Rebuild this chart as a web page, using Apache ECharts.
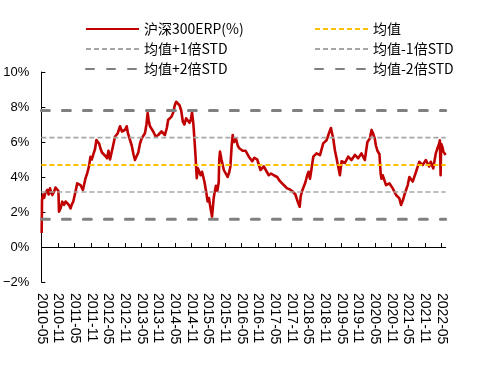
<!DOCTYPE html>
<html><head><meta charset="utf-8">
<script src="https://cdn.jsdelivr.net/npm/echarts@6/dist/echarts.min.js"></script>
<style>html,body{margin:0;padding:0;background:#fff}#c{width:503px;height:384px}</style>
</head><body><div id="c"></div>
<script>
// ---- data ----
const erpName = '沪深300ERP(%)';
const erpDates = [
'2010-05-04','2010-05-08','2010-05-20','2010-05-30','2010-06-15','2010-07-05','2010-07-20','2010-08-04','2010-08-18','2010-08-29',
'2010-09-17','2010-10-04','2010-10-22','2010-11-05','2010-11-11','2010-11-28','2010-12-16','2011-01-05','2011-01-22','2011-02-10',
'2011-02-28','2011-03-16','2011-04-01','2011-04-15','2011-05-09','2011-05-28','2011-06-15','2011-07-03','2011-07-29','2011-08-27',
'2011-09-15','2011-10-04','2011-10-21','2011-11-05','2011-11-20','2011-12-10','2011-12-25','2012-01-10','2012-01-25','2012-02-08',
'2012-02-25','2012-03-15','2012-04-01','2012-04-20','2012-05-05','2012-05-22','2012-06-17','2012-07-16','2012-08-15','2012-09-10',
'2012-10-01','2012-10-16','2012-11-05','2012-11-22','2012-12-05','2012-12-17','2013-01-16','2013-02-05','2013-02-21','2013-03-27',
'2013-04-15','2013-05-03','2013-06-09','2013-06-25','2013-07-08','2013-07-20','2013-08-03','2013-09-08','2013-10-05','2013-11-02',
'2013-12-08','2014-01-14','2014-02-05','2014-02-19','2014-03-26','2014-04-15','2014-05-01','2014-05-16','2014-06-05','2014-06-22',
'2014-07-10','2014-07-28','2014-08-15','2014-09-03','2014-10-10','2014-10-25','2014-11-07','2014-11-22','2014-12-05','2014-12-14',
'2014-12-28','2015-01-10','2015-01-27','2015-02-10','2015-02-25','2015-03-21','2015-04-08','2015-04-26','2015-05-10','2015-05-21',
'2015-06-13','2015-07-01','2015-07-10','2015-07-25','2015-08-10','2015-08-25','2015-09-01','2015-09-09','2015-09-25','2015-10-07',
'2015-10-20','2015-11-07','2015-12-01','2015-12-20','2016-01-01','2016-01-15','2016-01-26','2016-02-10','2016-03-01','2016-03-20',
'2016-04-07','2016-05-13','2016-06-15','2016-07-20','2016-08-27','2016-09-20','2016-10-21','2016-11-26','2017-01-02','2017-02-25',
'2017-03-20','2017-04-19','2017-05-26','2017-06-20','2017-07-19','2017-08-15','2017-09-13','2017-10-10','2017-11-07','2017-12-13',
'2018-01-07','2018-01-29','2018-02-10','2018-02-25','2018-04-01','2018-04-20','2018-05-05','2018-05-20','2018-06-05','2018-06-26',
'2018-08-01','2018-09-08','2018-10-13','2018-11-19','2018-12-15','2019-01-06','2019-02-01','2019-02-20','2019-03-07','2019-04-13',
'2019-05-01','2019-06-07','2019-07-13','2019-08-18','2019-09-25','2019-10-30','2019-12-05','2020-01-12','2020-02-10','2020-03-06',
'2020-03-25','2020-04-10','2020-04-29','2020-05-12','2020-05-28','2020-06-20','2020-07-03','2020-07-12','2020-07-25','2020-08-13',
'2020-09-01','2020-10-07','2020-11-13','2020-12-19','2021-01-25','2021-02-13','2021-03-05','2021-03-19','2021-04-25','2021-05-13',
'2021-06-19','2021-07-25','2021-08-29','2021-10-06','2021-11-11','2021-12-16','2022-01-04','2022-01-30','2022-02-28','2022-03-16',
'2022-04-04','2022-04-12','2022-04-20','2022-04-26','2022-05-10','2022-05-20','2022-06-14'
];
const erpValues = [
0.8,2.7,3.0,2.8,3.1,3.26,3.0,3.35,3.1,2.97,
3.16,3.4,3.3,3.2,2.02,2.21,2.59,2.4,2.6,2.5,
2.4,2.21,2.45,2.59,3.16,3.64,3.7,3.54,3.26,3.92,
4.2,4.59,5.16,5.0,5.26,5.6,6.11,6.21,5.9,5.64,
5.4,5.45,5.2,5.07,5.5,5.0,5.6,6.3,6.5,6.9,
6.6,6.5,6.7,6.9,6.5,6.3,5.8,5.3,4.97,5.4,
5.9,6.2,6.5,7.0,7.66,7.2,6.9,6.6,6.3,6.4,
6.6,6.4,6.8,7.26,7.45,7.7,8.1,8.3,8.2,8.1,
7.8,7.16,7.0,7.35,7.1,7.3,7.7,7.0,6.0,5.26,
3.93,4.5,4.6,4.1,4.3,3.73,3.2,2.6,2.8,2.4,
1.73,2.8,3.1,3.5,3.2,3.7,5.0,5.45,5.0,4.9,
4.4,4.5,4.0,4.3,4.6,5.8,6.4,6.0,6.2,5.8,
5.64,5.5,5.5,5.16,4.9,5.1,5.0,4.4,4.6,4.1,
4.2,4.1,4.0,3.8,3.64,3.5,3.35,3.3,3.2,3.0,
2.6,2.3,2.9,3.2,3.7,4.1,4.3,3.9,4.4,5.16,
5.35,5.25,5.92,6.1,6.5,6.8,6.2,5.5,5.07,4.1,
4.9,4.8,5.16,4.97,5.26,5.07,5.35,4.97,6.0,6.2,
6.69,6.5,6.2,5.8,5.5,5.3,4.2,3.9,4.1,4.0,
3.54,3.64,3.35,2.97,2.78,2.4,2.7,2.97,3.54,4.0,
3.74,4.3,4.87,4.68,4.97,4.6,4.87,4.49,5.35,5.64,
5.9,6.1,4.1,5.9,5.7,5.45,5.26
];
const tickLabels = ['2010-05','2010-11','2011-05','2011-11','2012-05','2012-11','2013-05','2013-11','2014-05','2014-11',
'2015-05','2015-11','2016-05','2016-11','2017-05','2017-11','2018-05','2018-11','2019-05','2019-11',
'2020-05','2020-11','2021-05','2021-11','2022-05'];
const refNames = ['均值','均值+1倍STD','均值-1倍STD','均值+2倍STD','均值-2倍STD'];
const refValues = [4.69, 6.25, 3.14, 7.80, 1.58];

// ---- helpers ----
function toMonth(s){ const p = s.split('-').map(Number); return (p[0]-2010)*12 + (p[1]-5) + ((p[2]||1)-1)/30; }
const xMin = 0, xMax = toMonth('2022-06-15');
const tickVals = tickLabels.map(toMonth);
const labelMap = {}; tickLabels.forEach((l,i)=>{ labelMap[Math.round(tickVals[i])] = l; });

const refStyles = [
  {color:'#FFC000', width:2, type:[5,3], cap:'butt'},
  {color:'#A6A6A6', width:1.6, type:[5,3], cap:'butt'},
  {color:'#A6A6A6', width:1.6, type:[5,3], cap:'butt'},
  {color:'#808080', width:3, type:[8,13], cap:'round'},
  {color:'#808080', width:3, type:[8,13], cap:'round'}
];

const series = [{
  name: erpName, type:'line', symbol:'none', showSymbol:false, animation:false,
  data: erpDates.map((d,i)=>[toMonth(d), erpValues[i]]),
  lineStyle:{color:'#C00000', width:2.6, join:'round'}, itemStyle:{color:'#C00000'}, z:2
}];
refNames.forEach((n,i)=>{
  series.push({
    name:n, type:'line', symbol:'none', showSymbol:false, animation:false, z:3,
    data:[[xMin, refValues[i]],[xMax, refValues[i]]],
    lineStyle:{color:refStyles[i].color, width:refStyles[i].width, type:refStyles[i].type, cap:refStyles[i].cap},
    itemStyle:{color:refStyles[i].color}
  });
});

const legendText = {fontFamily:'"Noto Sans CJK SC"', fontSize:14, color:'#000'};
const legendCommon = {orient:'vertical', top:17, itemWidth:53, itemHeight:14, itemGap:6,
  textStyle:legendText, itemStyle:{opacity:0, borderWidth:0}, selectedMode:false};
const chart = echarts.init(document.getElementById('c'), null, {renderer:'canvas'});
chart.setOption({
  animation:false,
  backgroundColor:'#fff',
  legend:[
    Object.assign({left:80, data:[erpName, refNames[1], refNames[3]]}, legendCommon),
    Object.assign({left:309, data:[refNames[0], refNames[2], refNames[4]]}, legendCommon)
  ],
  grid:{left:41, right:503-445.7, top:72, bottom:102, containLabel:false},
  xAxis:[
    {type:'value', min:xMin, max:xMax, position:'bottom',
     axisLine:{show:true, onZero:true, lineStyle:{color:'#000', width:1}},
     axisTick:{show:true, inside:true, length:4, customValues:tickVals, lineStyle:{color:'#000'}},
     axisLabel:{show:false}, splitLine:{show:false}},
    {type:'value', min:xMin, max:xMax, position:'bottom',
     axisLine:{show:false, onZero:false}, axisTick:{show:false}, splitLine:{show:false},
     axisLabel:{show:true, rotate:-90, margin:11, customValues:tickVals,
       formatter:(v)=>labelMap[Math.round(v)]||'',
       fontFamily:'"Liberation Sans", Arial', fontSize:14, color:'#000'}}
  ],
  yAxis:{type:'value', min:-2, max:10, interval:2,
    axisLine:{show:true, lineStyle:{color:'#000', width:1}},
    axisTick:{show:true, inside:true, length:4, lineStyle:{color:'#000'}},
    splitLine:{show:false},
    axisLabel:{margin:12, fontFamily:'"Liberation Sans", Arial', fontSize:13, color:'#000',
      formatter:(v)=> (v<0 ? '−'+(-v) : v) + '%'}},
  series: series
});
</script></body></html>
